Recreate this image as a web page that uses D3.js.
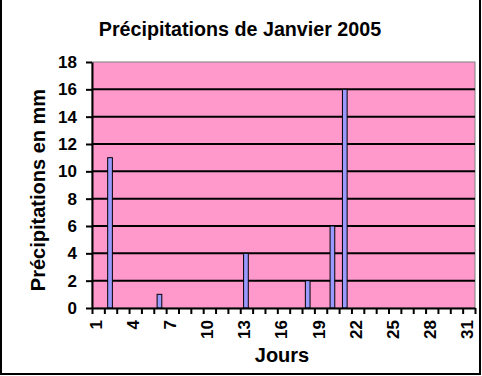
<!DOCTYPE html>
<html>
<head>
<meta charset="utf-8">
<script src="https://d3js.org/d3.v7.min.js"></script>
<style>
  body { margin: 0; background: #fff; }
  text { font-family: Arial, "Liberation Sans", sans-serif; font-weight: bold; }
</style>
</head>
<body>
<div id="chart"></div>
<script>
// données
const jours = d3.range(1, 32);
const precipitations = [0, 11, 0, 0, 0, 1, 0, 0, 0, 0, 0, 0, 4, 0, 0, 0, 0, 2, 0, 6, 16, 0, 0, 0, 0, 0, 0, 0, 0, 0, 0];
const yTicks = [0, 2, 4, 6, 8, 10, 12, 14, 16, 18];
const xLabels = [1, 4, 7, 10, 13, 16, 19, 22, 25, 28, 31];

const W = 482, H = 376;
const plot = {left: 92, right: 475, top: 62, bottom: 308};

const svg = d3.select("#chart").append("svg")
    .attr("width", W)
    .attr("height", H);

svg.append("rect").attr("width", W).attr("height", H).attr("fill", "#fff");

// cadre extérieur (pas de trait en haut)
svg.append("path")
    .attr("d", `M1,0 V374 H480 V0`)
    .attr("fill", "none")
    .attr("stroke", "#000")
    .attr("stroke-width", 2);

// échelles
const x = d3.scaleBand()
    .domain(jours)
    .range([plot.left, plot.right])
    .paddingInner(0.62)
    .paddingOuter(0.31);

const xEdge = d3.scaleLinear()
    .domain([0.5, 31.5])
    .range([plot.left, plot.right]);

const y = d3.scaleLinear()
    .domain([0, 18])
    .range([plot.bottom, plot.top]);

// fond de la zone de traçage
svg.append("rect")
    .attr("x", plot.left)
    .attr("y", plot.top)
    .attr("width", plot.right - plot.left)
    .attr("height", plot.bottom - plot.top)
    .attr("fill", "#FF99CC")
    .attr("stroke", "#808080")
    .attr("stroke-width", 1);

// quadrillage
svg.append("g")
    .selectAll("line")
    .data(yTicks.filter(d => d > 0 && d < 18))
    .enter()
    .append("line")
    .attr("x1", plot.left)
    .attr("x2", plot.right)
    .attr("y1", d => y(d))
    .attr("y2", d => y(d))
    .attr("stroke", "#000")
    .attr("stroke-width", 2);

// barres
svg.append("g")
    .selectAll("rect")
    .data(jours.map((j, i) => ({jour: j, val: precipitations[i]})).filter(d => d.val > 0))
    .enter()
    .append("rect")
    .attr("x", d => x(d.jour) - 0.5)
    .attr("y", d => y(d.val))
    .attr("width", x.bandwidth())
    .attr("height", d => y(0) - y(d.val))
    .attr("fill", "#9999FF")
    .attr("stroke", "#000")
    .attr("stroke-width", 1);

// axe Y
const yAxis = svg.append("g")
    .attr("transform", `translate(${plot.left},0)`)
    .call(d3.axisLeft(y).tickValues(yTicks).tickSize(6).tickPadding(9).tickSizeOuter(0));
yAxis.select(".domain").attr("stroke-width", 2);
yAxis.selectAll(".tick line").attr("stroke-width", 2);
yAxis.selectAll("text")
    .style("font-size", "17px")
    .attr("fill", "#000");

// axe X : graduations aux limites des catégories
const xAxis = svg.append("g")
    .attr("transform", `translate(0,${plot.bottom})`)
    .call(d3.axisBottom(xEdge).tickValues(d3.range(0.5, 32, 1)).tickSize(6).tickFormat("").tickSizeOuter(0));
xAxis.select(".domain").attr("stroke-width", 2);
xAxis.selectAll(".tick line").attr("stroke-width", 2);

// étiquettes X pivotées
svg.append("g")
    .selectAll("text")
    .data(xLabels)
    .enter()
    .append("text")
    .attr("transform", d => `translate(${x(d) + x.bandwidth() / 2 - 2},${plot.bottom + 12}) rotate(-90)`)
    .attr("text-anchor", "end")
    .attr("dy", "0.35em")
    .style("font-size", "17px")
    .text(d => d);

// titre
svg.append("text")
    .attr("x", 240)
    .attr("y", 36)
    .attr("text-anchor", "middle")
    .style("font-size", "19.7px")
    .text("Précipitations de Janvier 2005");

// titre axe Y
svg.append("text")
    .attr("transform", "translate(45,190) rotate(-90)")
    .attr("text-anchor", "middle")
    .style("font-size", "20px")
    .text("Précipitations en mm");

// titre axe X
svg.append("text")
    .attr("x", 282)
    .attr("y", 362)
    .attr("text-anchor", "middle")
    .style("font-size", "20px")
    .text("Jours");
</script>
</body>
</html>
